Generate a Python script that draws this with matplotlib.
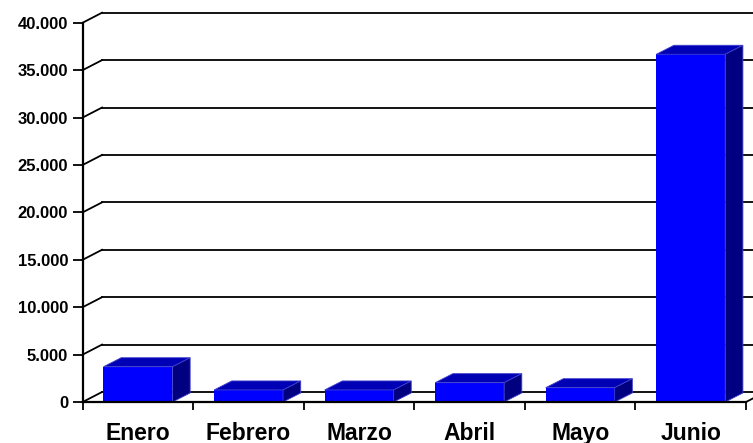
import matplotlib
matplotlib.use("Agg")
import matplotlib.pyplot as plt
from matplotlib.patches import Polygon

# data
meses = ["Enero", "Febrero", "Marzo", "Abril", "Mayo", "Junio"]
valores = [3720, 1270, 1270, 2040, 1510, 36670]
y_ticks = [0, 5000, 10000, 15000, 20000, 25000, 30000, 35000, 40000]
y_labels = ["0", "5.000", "10.000", "15.000", "20.000", "25.000", "30.000", "35.000", "40.000"]

# 3D look (offsets in data units)
wall_dx, wall_dy = 0.175, 1055
bar_dx, bar_dy = 0.16, 950
bar_w = 0.624

plt.rcParams['font.family'] = ['Liberation Sans', 'DejaVu Sans']
plt.rcParams['font.weight'] = 'bold'

fig = plt.figure(figsize=(7.53, 4.43), dpi=100)
ax = fig.add_axes([82.7 / 753, 41 / 443, 663.3 / 753, 379.3 / 443])
ax.set_xlim(-0.5, len(meses) - 0.5)
ax.set_ylim(0, 40000)
ax.patch.set_visible(False)

# back wall gridlines + left wall diagonals
x0 = -0.5
x1 = len(meses) - 0.5
for v in y_ticks:
    ax.plot([x0, x0 + wall_dx], [v, v + wall_dy], color='black', lw=1.3,
            clip_on=False, zorder=1)
    ax.plot([x0 + wall_dx, x1 + wall_dx + 0.2], [v + wall_dy, v + wall_dy],
            color='black', lw=1.3, clip_on=False, zorder=1)
# right floor edge
ax.plot([x1, x1 + wall_dx], [0, wall_dy], color='black', lw=1.3,
        clip_on=False, zorder=1)

# bars
xs = list(range(len(meses)))
ax.bar(xs, valores, width=bar_w, color='#0000FF', zorder=3)
for x, v in zip(xs, valores):
    l, r = x - bar_w / 2, x + bar_w / 2
    top = Polygon([(l, v), (r, v), (r + bar_dx, v + bar_dy), (l + bar_dx, v + bar_dy)],
                  closed=True, facecolor='#0000B4', edgecolor='#4040d0', lw=0.6,
                  zorder=3, clip_on=False)
    side = Polygon([(r, 0), (r, v), (r + bar_dx, v + bar_dy), (r + bar_dx, bar_dy)],
                   closed=True, facecolor='#000080', edgecolor='#4040d0', lw=0.6,
                   zorder=3, clip_on=False)
    ax.add_patch(top)
    ax.add_patch(side)

# axes
for s in ['top', 'right']:
    ax.spines[s].set_visible(False)
for s in ['left', 'bottom']:
    ax.spines[s].set_linewidth(1.6)
    ax.spines[s].set_zorder(4)

ax.set_yticks(y_ticks)
ax.set_yticklabels(y_labels, fontsize=12, fontweight='bold')
ax.tick_params(axis='y', direction='out', length=7.5, width=1.3, pad=3)

ax.set_xticks([i - 0.5 for i in range(len(meses) + 1)])
ax.set_xticklabels([])
ax.tick_params(axis='x', which='major', direction='out', length=6, width=1.3)
ax.set_xticks(xs, minor=True)
ax.set_xticklabels(meses, minor=True, fontsize=16.5, fontweight='bold')
ax.tick_params(axis='x', which='minor', length=0, pad=14.5)

fig.savefig("out.png", dpi=100)
